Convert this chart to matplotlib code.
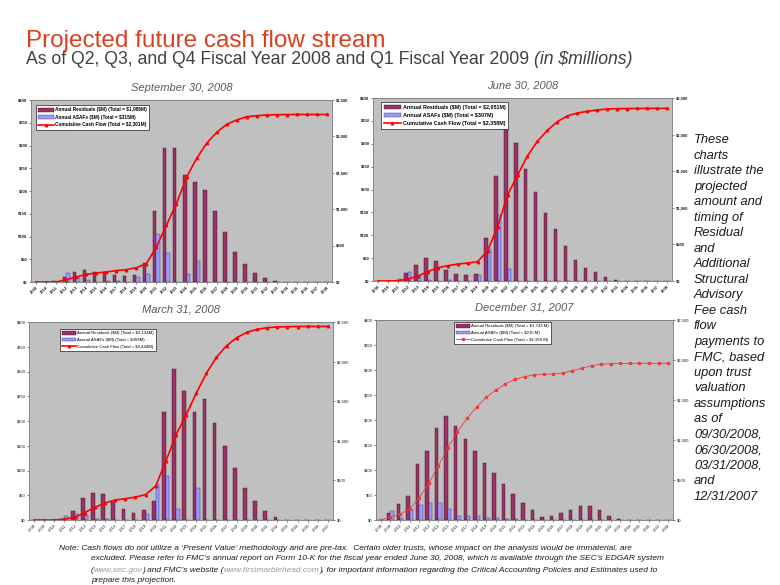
import numpy as np
import matplotlib
matplotlib.use('Agg')
import matplotlib.pyplot as plt
from matplotlib.patches import Patch
from matplotlib.lines import Line2D

plt.rcParams['font.family'] = ['Liberation Sans', 'DejaVu Sans']
plt.rcParams['text.parse_math'] = False

# ---- values ($ millions) ----
years_sep08 = list(range(2009, 2039))
res_sep08 = [0, 0, 2, 11, 22, 27, 21, 21, 15, 13, 15, 42, 157, 295, 294, 235, 219, 203,
             156, 109, 67, 39, 19, 8, 2, 0.5, 0, 0, 0, 0]
asaf_sep08 = [0, 0, 0, 20, 8, 4, 1, 2, 3, 1, 12, 18, 106, 64, 1, 18, 46, 1,
              1, 0, 0, 0, 0, 0, 0, 0, 0, 0, 0, 0]
cum_sep08 = [0, 0, 0, 32, 69, 105, 124, 138, 156, 170, 197, 252, 482, 780, 1078, 1436, 1697, 1904,
             2055, 2165, 2225, 2271, 2284, 2294, 2298, 2300, 2301, 2301, 2301, 2301]

years_jun08 = list(range(2009, 2039))
res_jun08 = [0, 0, 0, 17, 36, 50, 44, 23, 15, 13, 15, 95, 230, 336, 302, 244, 194, 148,
             113, 76, 45, 28, 20, 9, 2, 1, 0.5, 0, 0, 0]
asaf_jun08 = [0, 0, 4, 19, 12, 2, 1, 3, 1, 0, 13, 71, 144, 26, 1, 1, 1, 1,
              1, 0, 0, 0, 0, 0, 0, 0, 0, 0, 0, 0]
cum_jun08 = [0, 0, 4, 27, 68, 127, 182, 209, 232, 245, 264, 414, 741, 1173, 1445, 1709, 1909, 2059,
             2177, 2255, 2295, 2318, 2336, 2350, 2354, 2356, 2357, 2358, 2358, 2358]

years_mar08 = list(range(2008, 2038))
res_mar08 = [0, 0, 0, 0, 18, 45, 55, 52, 37, 23, 14, 20, 38, 219, 305, 260, 219, 244,
             195, 150, 105, 65, 38, 19, 7, 1, 0, 0, 0, 0]
asaf_mar08 = [0, 0, 0, 8, 13, 11, 3, 3, 0, 0, 0, 13, 72, 89, 22, 1, 64, 0,
              0, 0, 0, 0, 0, 0, 0, 0, 0, 0, 0, 0]
cum_mar08 = [0, 0, 0, 13, 34, 93, 160, 215, 253, 269, 290, 320, 429, 741, 1073, 1326, 1599, 1852,
             2054, 2201, 2302, 2370, 2407, 2428, 2437, 2441, 2443, 2444, 2444, 2444]

years_dec07 = list(range(2008, 2039))
res_dec07 = [0, 15, 32, 48, 112, 139, 185, 208, 188, 163, 138, 114, 94, 73, 53, 35, 20, 7,
             8, 15, 21, 28, 28, 20, 9, 2, 1, 0, 0, 0, 0]
asaf_dec07 = [0, 19, 5, 23, 30, 35, 35, 23, 9, 8, 8, 5, 5, 3, 3, 1, 1, 0,
              0, 0, 0, 0, 0, 0, 0, 0, 0, 0, 0, 0, 0]
cum_dec07 = [0, 33, 71, 138, 275, 458, 675, 900, 1104, 1271, 1413, 1533, 1625, 1700, 1758, 1792, 1813, 1821,
             1825, 1838, 1867, 1896, 1929, 1946, 1954, 1957, 1958, 1959, 1959, 1959, 1959]

legend_sep08 = ['Annual Residuals ($M) (Total = $1,986M)', 'Annual ASAFs ($M) (Total = $315M)',
                'Cumulative Cash Flow (Total = $2,301M)']
legend_jun08 = ['Annual Residuals ($M) (Total = $2,051M)', 'Annual ASAFs ($M) (Total = $307M)',
                'Cumulative Cash Flow (Total = $2,358M)']
legend_mar08 = ['Annual Residuals ($M) (Total = $2,134M)', 'Annual ASAFs ($M) (Total = $309M)',
                'Cumulative Cash Flow (Total = $2,444M)']
legend_dec07 = ['Annual Residuals ($M) (Total = $1,743 M)', 'Annual ASAFs ($M) (Total = $215 M)',
                'Cumulative Cash Flow (Total = $1,959 M)']

left_ticks = [0, 50, 100, 150, 200, 250, 300, 350, 400]
right_ticks = [0, 500, 1000, 1500, 2000, 2500]

W, H = 780, 585
RES_C = '#993366'
ASAF_C = '#9999FF'

fig = plt.figure(figsize=(W / 100, H / 100), dpi=100)


def rect(x0, y0, x1, y1):
    return [x0 / W, 1 - y1 / H, (x1 - x0) / W, (y1 - y0) / H]


def panel(box, years, res, asaf, cum, labels, title, leg_xy, leg_size, bold=False, thin=False):
    ax = fig.add_axes(rect(*box))
    x = np.arange(len(years))
    w = 0.36
    ax.bar(x - w / 2, res, w, color=RES_C, edgecolor='#3a0d22', linewidth=0.3)
    ax.bar(x + w / 2, asaf, w, color=ASAF_C, edgecolor='#33336b', linewidth=0.3)
    ax.set_facecolor('#C0C0C0')
    ax.set_xlim(-0.5, len(years) - 0.5)
    ax.set_ylim(0, 400)
    weight = 'bold' if bold else 'normal'
    ax.set_yticks(left_ticks)
    ax.set_yticklabels(['$%d' % v for v in left_ticks], fontweight=weight)
    ax.set_xticks(x)
    ax.set_xticklabels([str(y) for y in years], rotation=45, ha='right',
                       rotation_mode='anchor', fontweight=weight)
    ax.tick_params(length=1.5, width=0.4, pad=1, labelsize=3, colors='#202020')

    ax2 = ax.twinx()
    if thin:
        lc, lw, mk, ms = '#F03A3A', 0.6, 's', 1.4
    else:
        lc, lw, mk, ms = '#FF0000', 1.2, '^', 1.8
    ax2.plot(x, cum, color=lc, linewidth=lw, marker=mk, markersize=ms)
    ax2.set_ylim(0, 2500)
    ax2.set_yticks(right_ticks)
    ax2.set_yticklabels(['${:,}'.format(v) for v in right_ticks], fontweight=weight)
    ax2.tick_params(length=1.5, width=0.4, pad=1, labelsize=3, colors='#202020')
    for a in (ax, ax2):
        for s in a.spines.values():
            s.set_color('#808080')
            s.set_linewidth(0.5)

    handles = [Patch(facecolor=RES_C, edgecolor='#3a0d22', linewidth=0.3),
               Patch(facecolor=ASAF_C, edgecolor='#33336b', linewidth=0.3),
               Line2D([], [], color=lc, linewidth=lw, marker=mk, markersize=ms)]
    leg = ax2.legend(handles, labels, loc='upper left', bbox_to_anchor=leg_xy,
                     borderaxespad=0, fancybox=False, framealpha=1, edgecolor='#202020',
                     prop={'size': leg_size, 'weight': weight},
                     handlelength=3.2, handleheight=0.9, handletextpad=0.3,
                     labelspacing=0.55, borderpad=0.5)
    leg.get_frame().set_linewidth(0.5)

    cx = (box[0] + box[2]) / 2
    fig.text(cx / W, 1 - (box[1] - 12) / H, title, ha='center', va='center',
             fontsize=8, style='italic', color='#595959')


panel((31, 100, 332, 282), years_sep08, res_sep08, asaf_sep08, cum_sep08, legend_sep08,
      'September 30, 2008', (0.017, 0.973), 3.4, bold=True)
panel((373, 98, 672, 281), years_jun08, res_jun08, asaf_jun08, cum_jun08, legend_jun08,
      'June 30, 2008', (0.027, 0.978), 3.9, bold=True)
panel((29, 322, 333, 520), years_mar08, res_mar08, asaf_mar08, cum_mar08, legend_mar08,
      'March 31, 2008', (0.102, 0.965), 3.1)
panel((376, 320, 673, 520), years_dec07, res_dec07, asaf_dec07, cum_dec07, legend_dec07,
      'December 31, 2007', (0.263, 0.99), 3.1, thin=True)

# headings
fig.text(26 / W, 1 - 47 / H, 'Projected future cash flow stream', fontsize=17.5,
         color='#D9411E', va='baseline')
sub = fig.text(26 / W, 1 - 64 / H,
               'As of Q2, Q3, and Q4 Fiscal Year 2008 and Q1 Fiscal Year 2009 ',
               fontsize=12.7, color='#404040', va='baseline')
fig.add_artist(plt.Annotation('(in $millions)', xy=(1, 0), xycoords=sub, va='bottom',
                              fontsize=12.7, color='#404040', style='italic'))

side = ('These\ncharts\nillustrate the\nprojected\namount and\ntiming of\nResidual\nand\n'
        'Additional\nStructural\nAdvisory\nFee cash\nflow\npayments to\nFMC, based\n'
        'upon trust\nvaluation\nassumptions\nas of\n09/30/2008,\n06/30/2008,\n'
        '03/31/2008,\nand\n12/31/2007')
fig.text(694 / W, 1 - 134 / H, side, fontsize=9.3, style='italic', color='#1a1a1a',
         va='top', ha='left', linespacing=1.39)

# footnote
fs = 6.0
note_kw = dict(fontsize=fs, style='italic', color='#1a1a1a', va='center')
fig.text(59 / W, 1 - 548 / H, 'Note: Cash flows do not utilize a \u2018Present Value\u2019 methodology '
         'and are pre-tax.  Certain older trusts, whose impact on the analysis would be '
         'immaterial, are', **note_kw)
fig.text(91 / W, 1 - 559 / H, 'excluded. Please refer to FMC\u2019s annual report on Form 10-K for the '
         'fiscal year ended June 30, 2008, which is available through the SEC\u2019s EDGAR system',
         **note_kw)
parts = [('(', '#1a1a1a'), ('www.sec.gov', '#9a9a9a'), (') and FMC\u2019s website (', '#1a1a1a'),
         ('www.firstmarblehead.com', '#9a9a9a'),
         ('), for important information regarding the Critical Accounting Policies and '
          'Estimates used to', '#1a1a1a')]
prev = fig.text(91 / W, 1 - 570 / H, parts[0][0], color=parts[0][1],
                fontsize=fs, style='italic', va='center')
for txt, col in parts[1:]:
    prev = fig.add_artist(plt.Annotation(txt, xy=(1, 0), xycoords=prev, va='bottom',
                                         fontsize=fs, style='italic', color=col))
fig.text(91 / W, 1 - 581 / H, 'prepare this projection.', **note_kw)

fig.savefig('out.png', dpi=100)
